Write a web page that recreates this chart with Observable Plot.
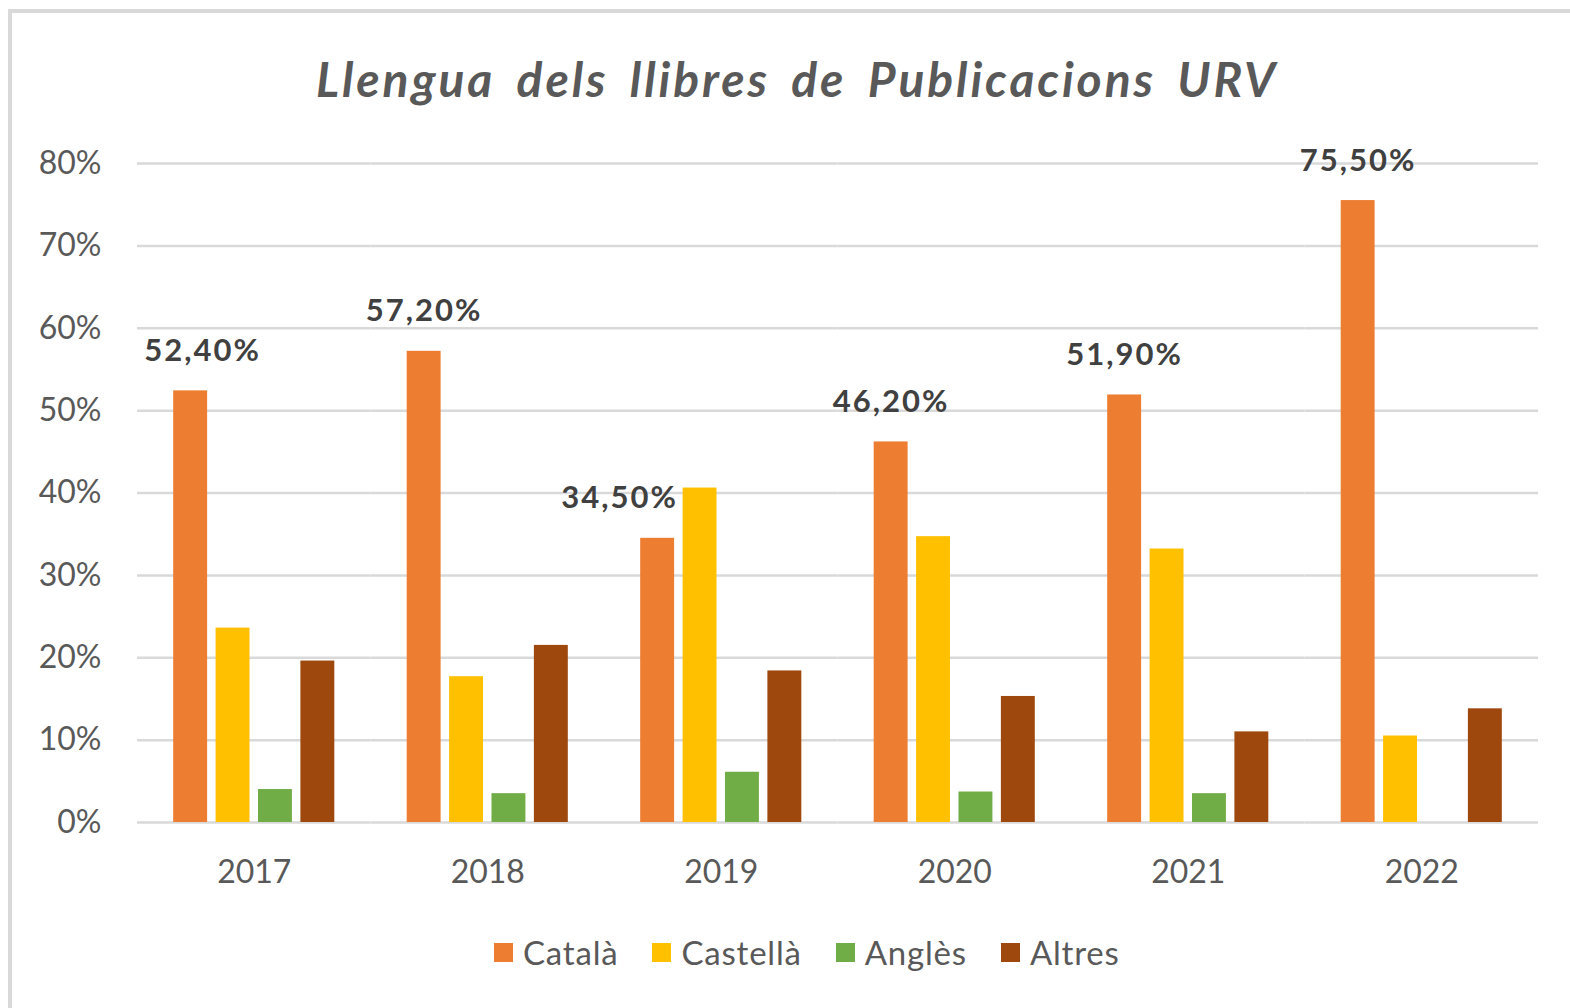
<!DOCTYPE html>
<html>
<head>
<meta charset="utf-8">
<script src="https://cdn.jsdelivr.net/npm/d3@7"></script>
<script src="https://cdn.jsdelivr.net/npm/@observablehq/plot@0.6"></script>
<style>
  html, body { margin: 0; padding: 0; background: #fff; }
  #root { position: relative; width: 1570px; height: 1008px; overflow: hidden; background: #fff; font-family: Lato, "Open Sans", sans-serif; }
  #frame { position: absolute; left: 8px; top: 9px; width: 1700px; height: 1100px; border-top: 4px solid #d9d9d9; border-left: 4px solid #d9d9d9; }
  #title { position: absolute; left: 12px; top: 55px; width: 1570px; text-align: center; font-size: 48px; line-height: 1; font-weight: 700; font-style: italic; color: #595959; letter-spacing: 2.9px; word-spacing: 8px; }
  #chart { position: absolute; left: 0; top: 0; }
  #chart g[font-weight="bold"] text { letter-spacing: 2px; }
  #legend { position: absolute; left: 494px; top: 932px; height: 40px; display: flex; align-items: center; font-size: 33px; color: #595959; letter-spacing: 0.8px; }
  .item { display: flex; align-items: center; margin-right: 34px; }
  .sw { width: 19px; height: 19px; margin-right: 10px; }
</style>
</head>
<body>
<div id="root">
  <div id="frame"></div>
  <div id="title">Llengua dels llibres de Publicacions URV</div>
  <div id="chart"></div>
  <div id="legend"></div>
</div>
<script>
const years = ["2017", "2018", "2019", "2020", "2021", "2022"];
const languages = ["Català", "Castellà", "Anglès", "Altres"];
const colors = ["#ED7D31", "#FFC000", "#70AD47", "#9E480E"];
const catala   = [52.4, 57.2, 34.5, 46.2, 51.9, 75.5];
const castella = [23.6, 17.7, 40.6, 34.7, 33.2, 10.5];
const angles   = [4.0, 3.5, 6.1, 3.7, 3.5, 0];
const altres   = [19.6, 21.5, 18.4, 15.3, 11.0, 13.8];
const yTicks = [0, 10, 20, 30, 40, 50, 60, 70, 80];

const series = [catala, castella, angles, altres];
const rows = [];
years.forEach((year, i) => {
  languages.forEach((lang, j) => {
    rows.push({year, lang, value: series[j][i]});
  });
});
const fmt = v => v.toFixed(2).replace(".", ",") + "%";

const W = 1570, H = 910;
const mL = 137, mR = 32, mT = 163, mB = 88;
const padIn = 0.31, padOut = padIn / 2;
const step = (W - mL - mR) / (years.length - padIn + 2 * padOut);
const gridExtend = step * padIn / 2;

const labelStyle = {x: "lang", y: "value", text: d => fmt(d.value), fontSize: 31, fontWeight: "bold", fill: "#404040", lineAnchor: "bottom", dy: -30};

const plot = Plot.plot({
  width: W,
  height: H,
  marginLeft: mL,
  marginRight: mR,
  marginTop: mT,
  marginBottom: mB,
  style: {fontFamily: "Lato, 'Open Sans', sans-serif", fontSize: "32px", color: "#595959", background: "transparent"},
  facet: {data: rows, x: "year", label: null},
  fx: {domain: years, paddingInner: padIn, paddingOuter: padOut, round: false, axis: "bottom", tickSize: 0, tickPadding: 38, label: null},
  x: {domain: languages, paddingInner: 0.2, paddingOuter: 0, round: false, axis: null},
  y: {domain: [0, 80], ticks: yTicks, tickFormat: d => d + "%", tickSize: 0, tickPadding: 36 + gridExtend, label: null, axis: "left"},
  color: {domain: languages, range: colors},
  marks: [
    Plot.ruleY(yTicks, {stroke: "#d9d9d9", strokeWidth: 2.5, insetLeft: -gridExtend, insetRight: -gridExtend}),
    Plot.barY(rows, {x: "lang", y: "value", fill: "lang"}),
    Plot.text(rows, {...labelStyle, filter: d => d.lang === "Català" && d.year !== "2017" && d.year !== "2019"}),
    Plot.text(rows, {...labelStyle, filter: d => d.lang === "Català" && d.year === "2017", dx: 12}),
    Plot.text(rows, {...labelStyle, filter: d => d.lang === "Català" && d.year === "2019", dx: -38})
  ]
});
document.getElementById("chart").appendChild(plot);

const legend = document.getElementById("legend");
languages.forEach((lang, i) => {
  const item = document.createElement("div");
  item.className = "item";
  const sw = document.createElement("div");
  sw.className = "sw";
  sw.style.background = colors[i];
  const t = document.createElement("span");
  t.textContent = lang;
  item.appendChild(sw);
  item.appendChild(t);
  legend.appendChild(item);
});
</script>
</body>
</html>
